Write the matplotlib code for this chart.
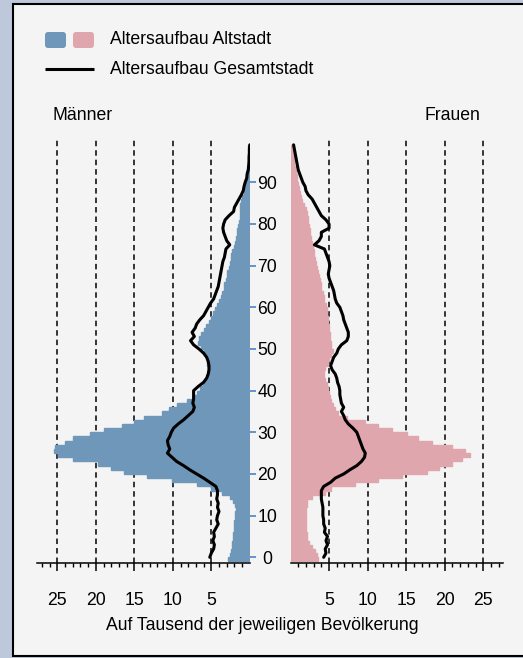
import matplotlib.pyplot as plt
import numpy as np
from matplotlib.patches import Rectangle, FancyBboxPatch
from matplotlib.ticker import FixedLocator

plt.rcParams['font.family'] = ['Liberation Sans', 'DejaVu Sans']

# Alter 0..99, Werte je Tausend der jeweiligen Bevoelkerung
ages = np.arange(100)

maenner_altstadt = [
    2.8, 2.6, 2.4, 2.35, 2.3, 2.2, 2.2, 2.1, 2.0, 2.0,
    1.9, 1.9, 1.8, 1.9, 2.2, 2.6, 3.6, 5.0, 6.9, 10.1,
    13.4, 16.4, 18.0, 19.7, 22.9, 24.9, 25.4, 25.3, 24.0, 22.9,
    20.7, 19.0, 16.6, 15.0, 13.8, 11.4, 10.5, 9.5, 8.2, 7.4,
    6.9, 6.5, 6.1, 5.8, 5.6, 5.45, 5.4, 5.5, 5.6, 5.7,
    6.0, 6.4, 6.7, 6.6, 6.3, 6.0, 5.7, 5.3, 5.0, 4.8,
    4.5, 4.2, 3.95, 3.8, 3.6, 3.4, 3.3, 3.1, 3.0, 2.9,
    2.7, 2.6, 2.5, 2.4, 2.3, 2.1, 1.9, 1.8, 1.7, 1.6,
    1.5, 1.4, 1.3, 1.25, 1.3, 1.3, 1.2, 1.0, 0.7, 0.6,
    0.5, 0.4, 0.35, 0.3, 0.25, 0.2, 0.2, 0.2, 0.2, 0.2,
]

frauen_altstadt = [
    3.6, 3.5, 3.2, 2.8, 2.4, 2.2, 2.1, 2.0, 2.0, 1.95,
    1.95, 1.95, 2.0, 2.1, 2.2, 2.8, 4.5, 5.2, 8.4, 11.4,
    14.4, 17.7, 19.2, 20.9, 22.2, 23.3, 22.6, 20.9, 18.3, 16.6,
    15.1, 13.1, 11.4, 9.7, 7.3, 6.2, 5.8, 5.5, 5.3, 5.1,
    5.0, 4.9, 4.7, 4.5, 4.4, 4.4, 4.5, 4.8, 5.0, 5.3,
    5.5, 5.3, 5.2, 5.1, 5.1, 5.0, 5.0, 4.9, 4.8, 4.7,
    4.7, 4.6, 4.4, 4.3, 4.2, 4.0, 3.9, 3.8, 3.7, 3.6,
    3.4, 3.3, 3.2, 3.1, 3.0, 2.9, 2.8, 2.6, 2.5, 2.5,
    2.4, 2.3, 2.3, 2.2, 2.0, 1.7, 1.5, 1.3, 1.2, 1.1,
    1.0, 0.9, 0.8, 0.7, 0.6, 0.5, 0.45, 0.4, 0.35, 0.3,
]

maenner_gesamt = [
    5.2, 5.0, 4.7, 4.6, 4.8, 4.6, 4.7, 4.4, 4.1, 4.3,
    4.2, 4.0, 4.2, 4.1, 4.3, 4.2, 4.2, 4.4, 5.2, 6.0,
    6.9, 7.8, 8.6, 9.5, 10.1, 10.7, 10.4, 10.6, 10.7, 10.4,
    10.2, 9.9, 9.3, 8.6, 8.0, 7.4, 7.2, 7.4, 7.3, 7.3,
    7.3, 6.7, 6.0, 5.6, 5.4, 5.3, 5.3, 5.4, 5.6, 6.0,
    6.6, 7.3, 7.7, 7.2, 7.5, 7.1, 6.9, 6.5, 6.0, 5.7,
    5.4, 5.1, 4.7, 4.5, 4.3, 4.1, 4.0, 3.9, 3.8, 3.7,
    3.6, 3.5, 3.3, 3.2, 3.1, 2.6, 3.0, 3.2, 3.4, 3.5,
    3.4, 3.2, 2.7, 2.1, 2.0, 1.7, 1.4, 1.1, 0.85, 0.75,
    0.6, 0.4, 0.35, 0.2, 0.15, 0.1, 0.1, 0.05, 0.05, 0.0,
]

frauen_gesamt = [
    4.3, 4.6, 4.5, 4.8, 4.6, 4.8, 4.4, 4.5, 4.3, 4.3,
    4.2, 4.2, 4.2, 4.1, 4.0, 4.0, 4.0, 4.3, 5.2, 5.8,
    6.9, 7.7, 8.6, 9.2, 9.6, 9.7, 9.4, 9.2, 9.0, 8.8,
    8.6, 8.1, 7.5, 7.1, 6.9, 6.6, 6.9, 6.6, 6.5, 6.4,
    6.4, 6.3, 6.1, 6.0, 5.8, 5.4, 5.2, 5.4, 5.6, 6.0,
    6.2, 6.6, 7.3, 7.5, 7.5, 7.3, 7.1, 6.9, 6.8, 6.6,
    6.4, 6.0, 5.8, 5.7, 5.6, 5.4, 5.2, 5.0, 4.9, 5.0,
    5.1, 5.0, 4.8, 4.6, 4.4, 3.1, 3.7, 4.0, 4.0, 5.0,
    5.0, 4.6, 4.0, 3.7, 3.4, 3.1, 2.8, 2.3, 2.0, 1.9,
    1.6, 1.4, 1.2, 1.0, 0.9, 0.8, 0.7, 0.6, 0.5, 0.4,
]

blau = "#6f97b9"
rosa = "#dfa6ad"
W, H = 523, 658
fs = 12.7

fig = plt.figure(figsize=(W / 100, H / 100), dpi=100)
fig.patch.set_facecolor("#bdc8da")

# Hintergrund, Rahmen und Legende in Pixelkoordinaten
bg = fig.add_axes([0, 0, 1, 1], zorder=0)
bg.set_xlim(0, W)
bg.set_ylim(H, 0)
bg.axis("off")
bg.add_patch(Rectangle((13, 4), 530, 652, facecolor="#f4f4f4", edgecolor="black", lw=1.5))
bg.add_patch(FancyBboxPatch((45, 32), 21, 16, boxstyle="round,pad=0,rounding_size=3",
                            facecolor=blau, edgecolor="none"))
bg.add_patch(FancyBboxPatch((73, 32), 21, 16, boxstyle="round,pad=0,rounding_size=3",
                            facecolor=rosa, edgecolor="none"))
bg.plot([45, 94], [68.5, 68.5], color="black", lw=2.2, solid_capstyle="butt")
bg.text(110, 40, "Altersaufbau Altstadt", fontsize=fs, va="center", ha="left")
bg.text(110, 69, "Altersaufbau Gesamtstadt", fontsize=fs, va="center", ha="left")
bg.text(52, 116, "Männer", fontsize=fs, va="center", ha="left")
bg.text(480, 116, "Frauen", fontsize=fs, va="center", ha="right")
bg.text(262.5, 625, "Auf Tausend der jeweiligen Bevölkerung", fontsize=fs, va="center", ha="center")

x_max = 27.6
y_lim = (-1.3, 100.4)
top_px, base_px = 139, 562.7
ax_h = (base_px - top_px) / H
ax_b = (H - base_px) / H

ax_l = fig.add_axes([37.3 / W, ax_b, (249.8 - 37.3) / W, ax_h], zorder=1)
ax_r = fig.add_axes([290.5 / W, ax_b, (503.3 - 290.5) / W, ax_h], zorder=1)

panels = [
    (ax_l, maenner_altstadt, maenner_gesamt, blau),
    (ax_r, frauen_altstadt, frauen_gesamt, rosa),
]
for ax, alt, ges, farbe in panels:
    ax.set_facecolor("none")
    for v in range(5, 30, 5):
        ax.axvline(v, color="black", lw=1.1, ls=(0, (3.6, 2.6)), zorder=0)
    ax.barh(ages - 1, alt, height=1, align="edge", color=farbe,
            edgecolor=farbe, lw=1.0, zorder=2)
    ax.plot(ges, ages, color="black", lw=2.2, solid_joinstyle="round",
            solid_capstyle="round", zorder=3)
    ax.set_xlim(0, x_max)
    ax.set_ylim(*y_lim)
    for s in ["top", "left", "right"]:
        ax.spines[s].set_visible(False)
    ax.spines["bottom"].set_linewidth(1.1)
    ax.set_xticks([5, 10, 15, 20, 25])
    ax.xaxis.set_minor_locator(FixedLocator([i for i in range(1, 28) if i % 5]))
    ax.tick_params(axis="x", which="major", length=5.5, width=1.1, pad=15.5, labelsize=fs)
    ax.tick_params(axis="x", which="minor", length=3, width=1.0)

ax_l.invert_xaxis()

# Altersachse zwischen beiden Seiten
ax_l.yaxis.tick_right()
ax_l.set_yticks(range(0, 100, 10))
ax_l.tick_params(axis="y", length=4, width=1.2, color="#4c84c4", pad=8.7, labelsize=fs)
for lab in ax_l.get_yticklabels():
    lab.set_horizontalalignment("center")
ax_r.set_yticks([])

fig.savefig("out.png", dpi=100, facecolor=fig.get_facecolor())
